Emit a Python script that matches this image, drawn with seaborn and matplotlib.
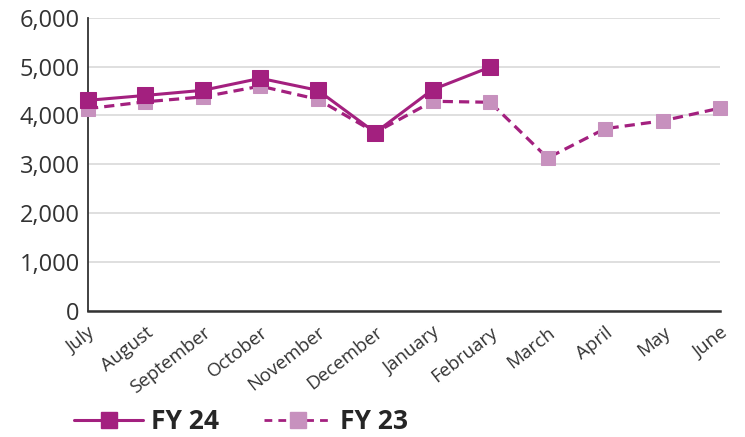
import matplotlib
matplotlib.use("Agg")
import matplotlib.pyplot as plt
import seaborn as sns
import pandas as pd
import numpy as np
from matplotlib.lines import Line2D

months = ["July", "August", "September", "October", "November", "December",
          "January", "February", "March", "April", "May", "June"]
fy24 = [4310, 4410, 4515, 4760, 4515, 3650, 4530, 4990]
fy23 = [4140, 4280, 4380, 4600, 4330, 3650, 4290, 4270, 3130, 3730, 3890, 4150]
yticks = [0, 1000, 2000, 3000, 4000, 5000, 6000]

dark = "#A3207F"
light = "#C791BE"

sns.set_theme(style="white")
plt.rcParams["font.family"] = ["Open Sans", "DejaVu Sans"]

fig = plt.figure(figsize=(7.45, 4.37), dpi=100)
ax = fig.add_axes([88/745, 1-311/437, (720-88)/745, (311-17.7)/437])

d23 = pd.DataFrame({"x": np.arange(len(fy23)), "y": fy23})
d24 = pd.DataFrame({"x": np.arange(len(fy24)), "y": fy24})

sns.lineplot(data=d23, x="x", y="y", ax=ax, color=dark, lw=2.3,
             marker="s", markersize=10.5, markerfacecolor=light,
             markeredgecolor=light, clip_on=False, zorder=3)
ax.lines[-1].set_dashes([3.2, 1.9])
sns.lineplot(data=d24, x="x", y="y", ax=ax, color=dark, lw=2.2,
             marker="s", markersize=11, markerfacecolor=dark,
             markeredgecolor=dark, clip_on=False, zorder=4)

ax.set_xlim(0, 11)
ax.set_ylim(0, 6000)
ax.set_yticks(yticks)
ax.set_yticklabels([f"{v:,}" for v in yticks], fontsize=17, color="#333333")
ax.set_xticks(range(len(months)))
ax.set_xticklabels(months, rotation=38, ha="right", va="top", rotation_mode="anchor",
                   fontsize=13.5, color="#333333")
ax.set_xlabel("")
ax.set_ylabel("")
ax.yaxis.grid(True, color="#d9d9d9", lw=1.2)
ax.set_axisbelow(True)
for s in ["top", "right"]:
    ax.spines[s].set_visible(False)
ax.spines["left"].set_color("#333333")
ax.spines["left"].set_linewidth(1.3)
ax.spines["bottom"].set_color("#333333")
ax.spines["bottom"].set_linewidth(1.8)
ax.tick_params(axis="y", direction="in", length=9.5, width=1.3, color="#333333", pad=6)
ax.tick_params(axis="x", direction="in", length=5, width=1, color="#333333", pad=9)

handles = [
    Line2D([], [], color=dark, lw=2.2, marker="s", markersize=11.5,
           markerfacecolor=dark, markeredgecolor=dark),
    Line2D([], [], color=dark, lw=2.0, dashes=[2.8, 2.2], marker="s", markersize=11,
           markerfacecolor=light, markeredgecolor=light),
]
fig.legend(handles, ["FY 24", "FY 23"], loc="lower left", bbox_to_anchor=(0.068, -0.05),
           ncol=2, frameon=False, handlelength=2.6, columnspacing=1.7,
           handletextpad=0.3,
           prop={"weight": "bold", "size": 19,
                 "family": ["Liberation Sans Narrow", "Open Sans", "DejaVu Sans"]})

fig.savefig("out.png", dpi=100)
